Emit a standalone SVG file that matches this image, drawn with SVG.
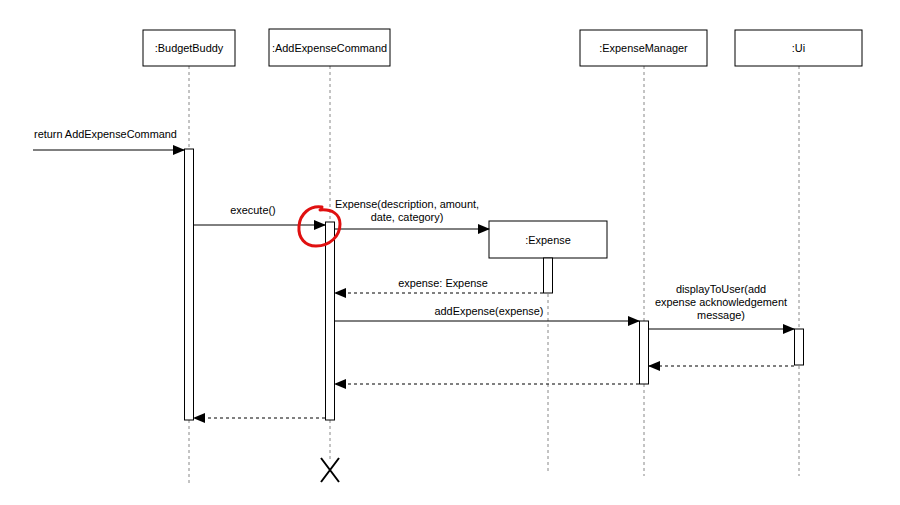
<svg xmlns="http://www.w3.org/2000/svg" width="900" height="505" viewBox="0 0 900 505">
<style>
text{font-family:"Liberation Sans",Arial,sans-serif;font-size:10.9px;fill:#000}
.box{fill:#fff;stroke:#000;stroke-width:1}
.life{stroke:#888;stroke-width:1;stroke-dasharray:3,3;fill:none}
.act{fill:#fff;stroke:#000;stroke-width:1}
.msg{stroke:#000;stroke-width:1;fill:none}
.ret{stroke:#000;stroke-width:1;stroke-dasharray:3,3;fill:none}
.mid{text-anchor:middle}
</style>
<defs>
<marker id="ah" markerWidth="12" markerHeight="10" refX="11" refY="5" orient="auto" markerUnits="userSpaceOnUse">
<path d="M0,0 L12,5 L0,10 Z" fill="#000"/>
</marker>
</defs>
<rect width="900" height="505" fill="#fff"/>
<g id="lifelines">
<line class="life" x1="189" y1="66" x2="189" y2="484"/>
<line class="life" x1="330" y1="66" x2="330" y2="460"/>
<line class="life" x1="548" y1="258" x2="548" y2="472"/>
<line class="life" x1="644" y1="66" x2="644" y2="476"/>
<line class="life" x1="799" y1="66" x2="799" y2="476"/>
</g>
<g id="BudgetBuddy">
<rect class="box" x="143" y="30" width="92" height="36"/>
<text class="mid" x="189" y="52">:BudgetBuddy</text>
<rect class="act" x="184.5" y="149" width="9" height="271"/>
</g>
<g id="AddExpenseCommand">
<rect class="box" x="269" y="29" width="121" height="37"/>
<text class="mid" x="329.5" y="51.5">:AddExpenseCommand</text>
<rect class="act" x="325.5" y="222" width="9" height="198"/>
<path d="M321,482 L339,458 M321,458 L339,482" stroke="#000" stroke-width="2" fill="none"/>
</g>
<g id="Expense">
<rect class="box" x="489" y="221" width="118" height="37"/>
<text class="mid" x="548" y="243.5">:Expense</text>
<rect class="act" x="543.5" y="258" width="9" height="35"/>
</g>
<g id="ExpenseManager">
<rect class="box" x="580" y="30" width="127" height="36"/>
<text class="mid" x="643.5" y="52">:ExpenseManager</text>
<rect class="act" x="639.5" y="321" width="9" height="63"/>
</g>
<g id="Ui">
<rect class="box" x="735" y="30" width="127" height="36"/>
<text class="mid" x="798.5" y="52">:Ui</text>
<rect class="act" x="794.5" y="329" width="9" height="36"/>
</g>
<g id="connectors">
<line class="msg" x1="33" y1="150" x2="184" y2="150" marker-end="url(#ah)"/>
<text x="34" y="138">return AddExpenseCommand</text>
<line class="msg" x1="194" y1="225" x2="325" y2="225" marker-end="url(#ah)" stroke="#555"/>
<text class="mid" x="253" y="214">execute()</text>
<line class="msg" x1="335" y1="229" x2="489" y2="229" marker-end="url(#ah)"/>
<text class="mid" x="407" y="208">Expense(description, amount,</text>
<text class="mid" x="407" y="221">date, category)</text>
<line class="ret" x1="543" y1="293" x2="335" y2="293" marker-end="url(#ah)"/>
<text class="mid" x="443" y="287">expense: Expense</text>
<line class="msg" x1="335" y1="321" x2="639" y2="321" marker-end="url(#ah)" stroke="#555"/>
<text class="mid" x="489" y="315">addExpense(expense)</text>
<line class="msg" x1="649" y1="329" x2="794" y2="329" marker-end="url(#ah)" stroke="#555"/>
<text class="mid" x="721" y="293">displayToUser(add</text>
<text class="mid" x="721" y="306">expense acknowledgement</text>
<text class="mid" x="721" y="319">message)</text>
<line class="ret" x1="794" y1="366" x2="649" y2="366" marker-end="url(#ah)"/>
<line class="ret" x1="639" y1="384" x2="335" y2="384" marker-end="url(#ah)"/>
<line class="ret" x1="325" y1="418" x2="194" y2="418" marker-end="url(#ah)"/>
</g>
<g id="annotation">
<path d="M322,207 C310,205 300,214 299,226 C298,238 305,246 316,246 C330,246 340,236 340,224 C340,214 332,209 320,210" fill="none" stroke="#e01010" stroke-width="3" stroke-linecap="round"/>
</g>
</svg>
